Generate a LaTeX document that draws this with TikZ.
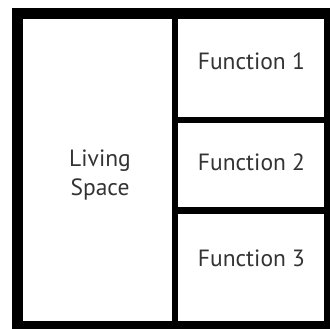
\documentclass[tikz,border=0pt]{standalone}
\usepackage{fontspec}
\setmainfont{PT Sans}
\definecolor{txt}{HTML}{333333}
\begin{document}
\begin{tikzpicture}[x=1pt,y=-1pt,
  lbl/.style={text=txt,font=\fontsize{23.5}{28.3}\selectfont,inner sep=0pt,align=center}]
\useasboundingbox (0,0) rectangle (330,329);
% frame
\fill[black] (12,8) rectangle (330,329);
\fill[white] (23,19) rectangle (324,321);
% dividers
\fill[black] (172,19) rectangle (177.5,321);
\fill[black] (177.5,117) rectangle (324,123);
\fill[black] (177.5,207.5) rectangle (324,214);
% labels
\node[lbl] (living) at (100,175) {Living\\Space};
\node[lbl] (f1) at (251.4,61.7) {Function 1};
\node[lbl] (f2) at (251.5,162.5) {Function 2};
\node[lbl] (f3) at (251.5,258) {Function 3};
\end{tikzpicture}
\end{document}
